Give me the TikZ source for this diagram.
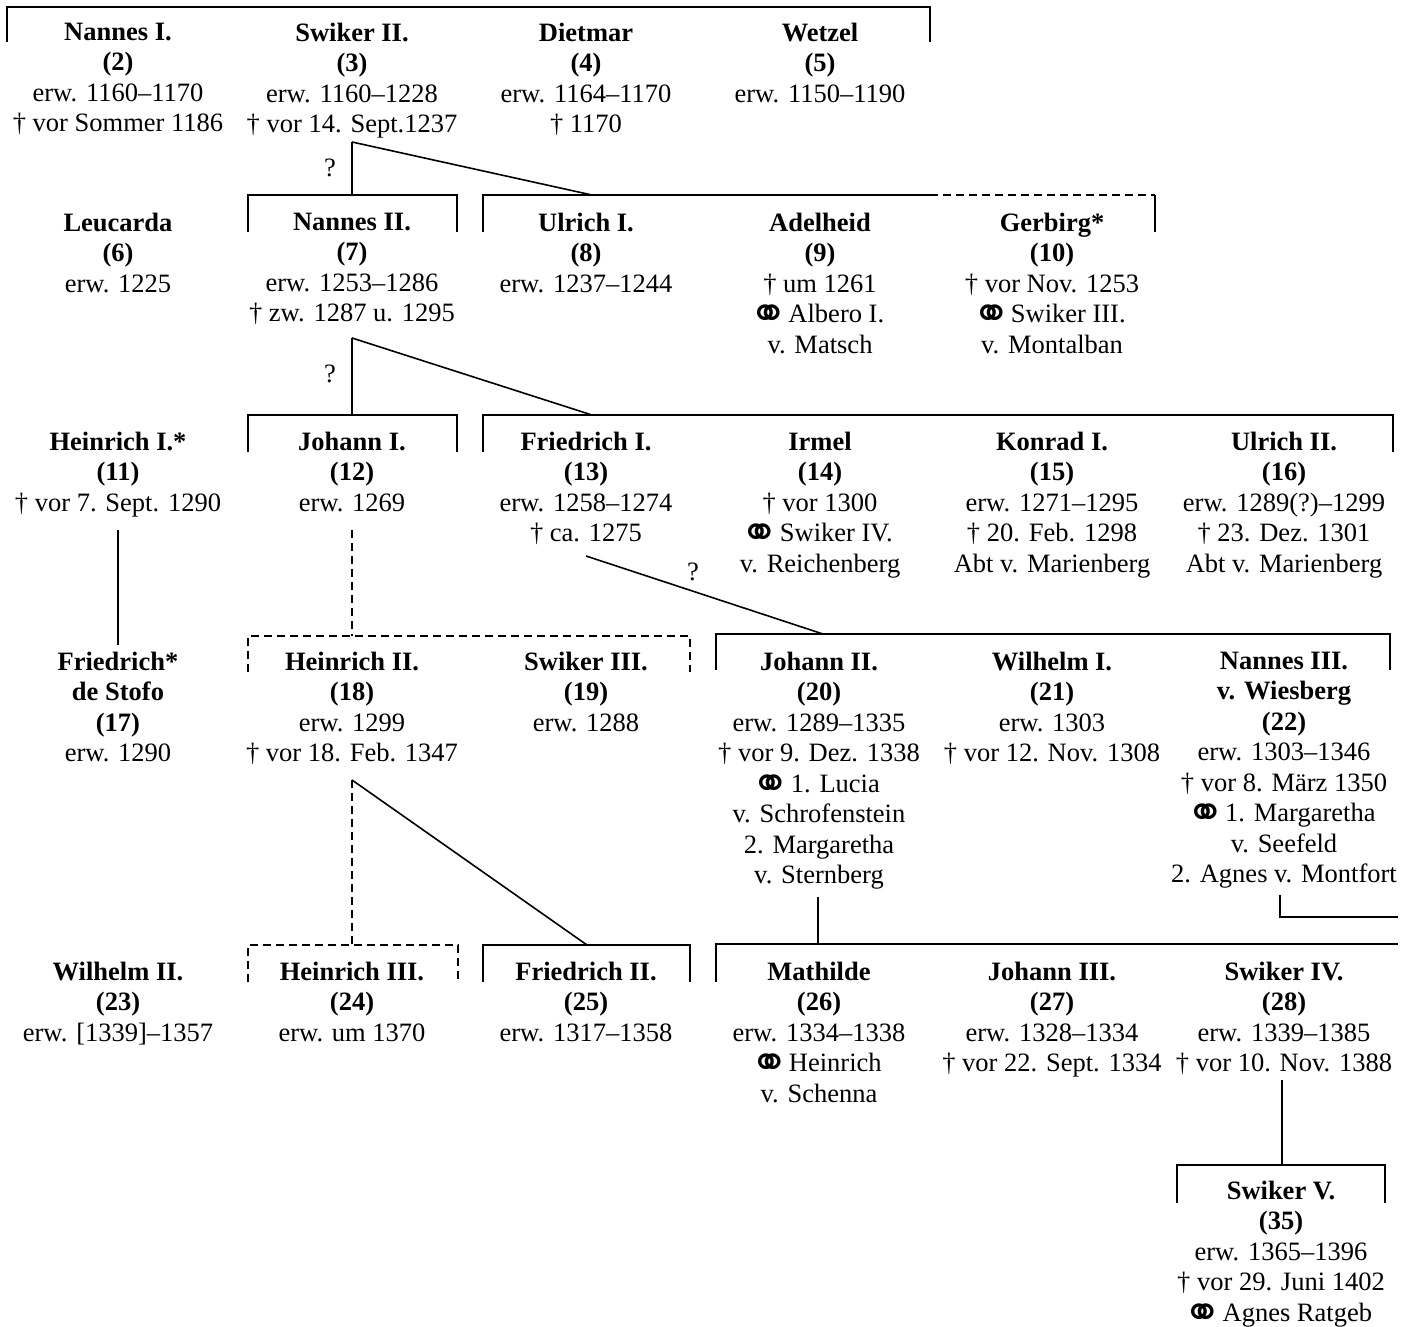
\documentclass[tikz,border=0pt]{standalone}
\usepackage{fontspec}
\setmainfont{Liberation Serif}
\newfontfamily\marfont{DejaVu Sans}
\usetikzlibrary{positioning}
\newcommand{\gen}{\fontsize{26.5}{30.5}\selectfont}
\newcommand{\ehe}{\makebox[26pt][c]{\raisebox{-7pt}{\marfont\fontsize{46}{30.5}\selectfont ⚭}}}

\begin{document}
\begin{tikzpicture}[x=1pt,y=-1pt,
    person/.style={align=center,inner sep=0pt,anchor=north,font=\gen,
      execute at begin node=\strut},
    query/.style={inner sep=0pt,font=\gen},
    kin/.style={line width=1.6pt},
    kinq/.style={kin,dash pattern=on 8pt off 5pt}]
  \useasboundingbox (0,0) rectangle (1414,1327);

  % generation 1
  \node[person] (p2) at (118,22.6) {\textbf{Nannes I.}\\\textbf{(2)}\\erw. 1160--1170\\† vor Sommer 1186};
  \node[person] (p3) at (352,22.6) {\textbf{Swiker II.}\\\textbf{(3)}\\erw. 1160--1228\\† vor 14. Sept.1237};
  \node[person] (p4) at (586,22.6) {\textbf{Dietmar}\\\textbf{(4)}\\erw. 1164--1170\\† 1170};
  \node[person] (p5) at (820,22.6) {\textbf{Wetzel}\\\textbf{(5)}\\erw. 1150--1190};

  % generation 2
  \node[person] (p6) at (118,212.6) {\textbf{Leucarda}\\\textbf{(6)}\\erw. 1225};
  \node[person] (p7) at (352,212.6) {\textbf{Nannes II.}\\\textbf{(7)}\\erw. 1253--1286\\† zw. 1287 u. 1295};
  \node[person] (p8) at (586,212.6) {\textbf{Ulrich I.}\\\textbf{(8)}\\erw. 1237--1244};
  \node[person] (p9) at (820,212.6) {\textbf{Adelheid}\\\textbf{(9)}\\† um 1261\\\ehe{} Albero I.\\v. Matsch};
  \node[person] (p10) at (1052,212.6) {\textbf{Gerbirg*}\\\textbf{(10)}\\† vor Nov. 1253\\\ehe{} Swiker III.\\v. Montalban};

  % generation 3
  \node[person] (p11) at (118,431.6) {\textbf{Heinrich I.*}\\\textbf{(11)}\\† vor 7. Sept. 1290};
  \node[person] (p12) at (352,431.6) {\textbf{Johann I.}\\\textbf{(12)}\\erw. 1269};
  \node[person] (p13) at (586,431.6) {\textbf{Friedrich I.}\\\textbf{(13)}\\erw. 1258--1274\\† ca. 1275};
  \node[person] (p14) at (820,431.6) {\textbf{Irmel}\\\textbf{(14)}\\† vor 1300\\\ehe{} Swiker IV.\\v. Reichenberg};
  \node[person] (p15) at (1052,431.6) {\textbf{Konrad I.}\\\textbf{(15)}\\erw. 1271--1295\\† 20. Feb. 1298\\Abt v. Marienberg};
  \node[person] (p16) at (1284,431.6) {\textbf{Ulrich II.}\\\textbf{(16)}\\erw. 1289(?)--1299\\† 23. Dez. 1301\\Abt v. Marienberg};

  % generation 4
  \node[person] (p17) at (118,651.6) {\textbf{Friedrich*}\\\textbf{de Stofo}\\\textbf{(17)}\\erw. 1290};
  \node[person] (p18) at (352,651.6) {\textbf{Heinrich II.}\\\textbf{(18)}\\erw. 1299\\† vor 18. Feb. 1347};
  \node[person] (p19) at (586,651.6) {\textbf{Swiker III.}\\\textbf{(19)}\\erw. 1288};
  \node[person] (p20) at (819,651.6) {\textbf{Johann II.}\\\textbf{(20)}\\erw. 1289--1335\\† vor 9. Dez. 1338\\\ehe{} 1. Lucia\\v. Schrofenstein\\2. Margaretha\\v. Sternberg};
  \node[person] (p21) at (1052,651.6) {\textbf{Wilhelm I.}\\\textbf{(21)}\\erw. 1303\\† vor 12. Nov. 1308};
  \node[person] (p22) at (1284,651.6) {\textbf{Nannes III.}\\\textbf{v. Wiesberg}\\\textbf{(22)}\\erw. 1303--1346\\† vor 8. März 1350\\\ehe{} 1. Margaretha\\v. Seefeld\\2. Agnes v. Montfort};

  % generation 5
  \node[person] (p23) at (118,961.6) {\textbf{Wilhelm II.}\\\textbf{(23)}\\erw. [1339]--1357};
  \node[person] (p24) at (352,961.6) {\textbf{Heinrich III.}\\\textbf{(24)}\\erw. um 1370};
  \node[person] (p25) at (586,961.6) {\textbf{Friedrich II.}\\\textbf{(25)}\\erw. 1317--1358};
  \node[person] (p26) at (819,961.6) {\textbf{Mathilde}\\\textbf{(26)}\\erw. 1334--1338\\\ehe{} Heinrich\\v. Schenna};
  \node[person] (p27) at (1052,961.6) {\textbf{Johann III.}\\\textbf{(27)}\\erw. 1328--1334\\† vor 22. Sept. 1334};
  \node[person] (p28) at (1284,961.6) {\textbf{Swiker IV.}\\\textbf{(28)}\\erw. 1339--1385\\† vor 10. Nov. 1388};

  % generation 6
  \node[person] (p35) at (1281,1180.6) {\textbf{Swiker V.}\\\textbf{(35)}\\erw. 1365--1396\\† vor 29. Juni 1402\\\ehe{} Agnes Ratgeb};

  % sibling brackets
  \coordinate (b7) at (352,195);
  \coordinate (b8) at (592,195);
  \coordinate (b12) at (352,415);
  \coordinate (b13) at (592,415);
  \coordinate (b18) at (352,636);
  \coordinate (b20) at (823,634);
  \coordinate (b24) at (352,945);
  \coordinate (b25) at (587,945);
  \coordinate (b26) at (818,944);
  \coordinate (b35) at (1282,1165);
  \coordinate (e22) at (1398,917);

  \draw[kin] (7,42) |- (930,7) -- (930,42);
  \draw[kin] (248,232) |- (457,195) -- (457,232);
  \draw[kin] (483,232) |- (930,195);
  \draw[kinq] (930,195) -- (1155,195);
  \draw[kin] (1155,195) -- (1155,232);
  \draw[kin] (248,452) |- (457,415) -- (457,452);
  \draw[kin] (483,452) |- (1393,415) -- (1393,452);
  \draw[kinq] (248,672) |- (690,636) -- (690,672);
  \draw[kin] (716,670) |- (1390,634) -- (1390,670);
  \draw[kinq] (248,982) |- (458,945) -- (458,982);
  \draw[kin] (483,982) |- (690,945) -- (690,982);
  \draw[kin] (716,982) |- (1398,944);
  \draw[kin] (1177,1203) |- (1385,1165) -- (1385,1203);

  % descent
  \draw[kin] (p3.south |- 0,142) coordinate (s3) -- (b7);
  \draw[kin] (s3) -- (b8);
  \node[query] (q1) at (330,168) {?};
  \draw[kin] (p7.south |- 0,338) coordinate (s7) -- (b12);
  \draw[kin] (s7) -- (b13);
  \node[query] (q2) at (330,374) {?};
  \draw[kin] (p11.south |- 0,530) -- (p17.north |- 0,645);
  \draw[kinq] (p12.south |- 0,530) -- (b18);
  \draw[kin] (p13.south |- 0,556) -- (b20);
  \node[query] (q3) at (693,572) {?};
  \draw[kinq] (p18.south |- 0,780) coordinate (s18) -- (b24);
  \draw[kin] (s18) -- (b25);
  \draw[kin] (b26 |- 0,897) -- (b26);
  \draw[kin] (1280,895) |- (e22);
  \draw[kin] (b35 |- 0,1080) -- (b35);
\end{tikzpicture}
\end{document}
